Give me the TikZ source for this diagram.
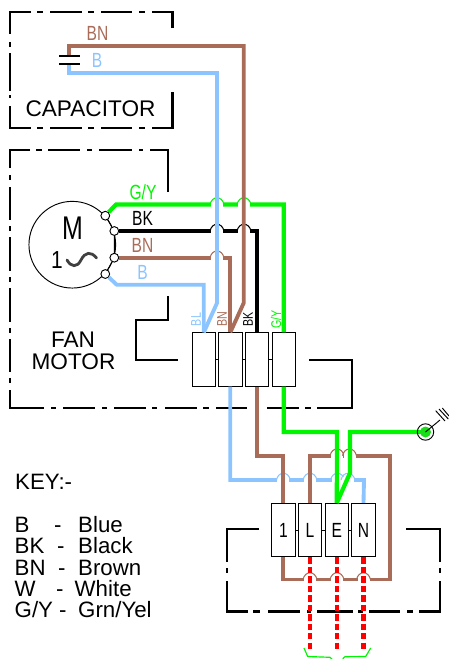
\documentclass[tikz,border=0pt]{standalone}
\usepackage{fontspec}
\setmainfont{Liberation Sans}
\tikzset{>=stealth}
\definecolor{wireblue}{RGB}{140,196,255}
\definecolor{wirebrown}{RGB}{168,108,88}
\definecolor{wiregreen}{RGB}{0,245,0}
\tikzset{
  boxline/.style={line width=1.9pt, line join=miter},
  thinline/.style={line width=.8pt},
  wire/.style={line width=3.3pt, line join=miter},
  greenwire/.style={wire, wiregreen, line width=3.6pt},
  term/.style={draw, thinline, fill=white, minimum width=20pt, minimum height=45.5pt, inner sep=0pt},
  stud/.style={circle, draw, thinline, fill=white, minimum size=7.5pt, inner sep=0pt},
  bigtext/.style={font=\fontsize{19.3}{19.3}\selectfont},
  keytext/.style={anchor=base west, inner sep=0pt, font=\fontsize{19}{19}\selectfont},
  wirelabel/.style={xscale=.76, inner sep=0pt, font=\fontsize{17.5}{17.5}\selectfont},
  sidelabel/.style={rotate=90, xscale=.76, inner sep=0pt, font=\fontsize{12}{12}\selectfont},
}
% hop of a wire over a crossing one: #1 colour, #2 x, #3 y
\newcommand{\hop}[3]{
  \fill[white] (#2-6,#3-3) rectangle (#2+6,#3+3);
  \draw[#1, line width=.9pt] (#2-7,#3) .. controls (#2-5,#3-9) and (#2+5,#3-9) .. (#2+7,#3);
}
\begin{document}
\begin{tikzpicture}[x=.03cm, y=-.03cm]
  \useasboundingbox (0,0) rectangle (449,659);

  % capacitor enclosure
  \draw[boxline] (172.5,28) -- (172.5,12) -- (152,12);
  \draw[boxline] (31,12) -- (10,12) -- (10,34);
  \draw[boxline] (10,106) -- (10,128) -- (31,128);
  \draw[boxline] (152,128) -- (172.5,128) -- (172.5,92);
  \foreach \a/\b in {37/43,50/82,88/94,101/132,139/145} {
    \draw[boxline] (\a,12) -- (\b,12);
    \draw[boxline] (\a,128) -- (\b,128);
  }
  \foreach \a/\b in {42/47,53/91,95/98} {\draw[boxline] (10,\a) -- (10,\b);}

  % motor enclosure
  \draw[boxline] (168,192) -- (168,150) -- (150,150);
  \draw[boxline] (30,150) -- (10,150) -- (10,168);
  \draw[boxline] (10,390) -- (10,408) -- (44,408);
  \draw[boxline] (317,408) -- (352,408) -- (352,360) -- (309,360);
  \draw[boxline] (168,296) -- (168,320) -- (136,320) -- (136,360) -- (178,360);
  \foreach \a/\b in {36/42,48/80,87/92,99/132,139/143} {\draw[boxline] (\a,150) -- (\b,150);}
  \foreach \a/\b in {175/180,187/220,226/231,237/271,277/282,288/322,328/333,339/372,378/383} {\draw[boxline] (10,\a) -- (10,\b);}
  \foreach \a/\b in {51/56,63/95,102/107,114/146,152/157,165/197,203/209,216/247,255/259,267/299,305/311} {\draw[boxline] (\a,408) -- (\b,408);}

  % supply enclosure
  \draw[boxline] (259,529) -- (227,529) -- (227,562);
  \draw[boxline] (227,581) -- (227,611.5) -- (248,611.5);
  \draw[boxline] (419,611.5) -- (440,611.5) -- (440,581);
  \draw[boxline] (440,562) -- (440,529) -- (405.5,529);
  \foreach \x in {227,440} {\draw[boxline] (\x,568) -- (\x,573);}
  \foreach \a/\b in {253/260,268/300,307/311,317/353,358/363,369/400,407/413} {\draw[boxline] (\a,611.5) -- (\b,611.5);}

  % motor
  \node[circle, draw, thinline, minimum size=74pt, inner sep=0pt] (motor) at (72.3,244.7) {};
  \node[xscale=.76, font=\fontsize{28}{28}\selectfont, inner sep=0pt] (mlabel) at (72.5,228) {M};
  \node[xscale=.85, font=\fontsize{21}{21}\selectfont, inner sep=0pt] (mone) at (57,260.5) {1};
  \draw[line width=2.4pt, black!75, line cap=round] (67,260) .. controls (71,267) and (77,268) .. (81,260) .. controls (85,252) and (91,251) .. (96.5,258);
  \node[stud] (mgy) at (105.3,215.7) {};
  \node[stud] (mbk) at (114.3,231) {};
  \node[stud] (mbn) at (114.3,257.7) {};
  \node[stud] (mbl) at (105.3,274) {};
  \draw[thinline] (mgy) -- (mbk) -- (mbn) -- (mbl);

  % upper terminal block
  \node[term] (tbl) at (203.8,359.5) {};
  \node[term] (tbn) at (230.3,359.5) {};
  \node[term] (tbk) at (257,359.5) {};
  \node[term] (tgy) at (283.8,359.5) {};
  \draw[thinline] (tbl) -- (tbn) -- (tbk) -- (tgy);

  % lower terminal block
  \node[term] (tone) at (283.4,530) {};
  \node[term] (tlin) at (310,530) {};
  \node[term] (tear) at (336.8,530) {};
  \node[term] (tneu) at (363.5,530) {};
  \draw[thinline] (tone) -- (tlin) -- (tear) -- (tneu);
  \node[wirelabel] (tonel) at (tone) {1};
  \node[wirelabel] (tlinl) at (tlin) {L};
  \node[wirelabel] (tearl) at (tear) {E};
  \node[wirelabel] (tneul) at (tneu) {N};

  \coordinate (capbn) at (69,55.5);
  \coordinate (capbl) at (69,64.5);
  \coordinate (earth) at (425.5,432);

  % horizontal runs first, the crossing wires go over them
  \draw[greenwire] (mgy) -- (116,204.5) -| (tgy.north);
  \draw[wire] (mbk) -| (tbk.north);
  \draw[wire, wirebrown] (mbn) -| (tbn.north);
  \draw[wire, wireblue] (mbl) -- (116.7,284.7) -| (tbl.north);
  \foreach \x in {217,244} {
    \hop{wiregreen}{\x}{204.5}
    \hop{black}{\x}{231}
  }
  \hop{wirebrown}{217}{257.7}
  \draw[wire, wireblue] (capbl) |- (217,73) -- (217,303) -- (tbl.north);
  \draw[wire, wirebrown] (capbn) |- (243.7,46) -- (243.7,303) -- (tbn.north);

  % lower wiring
  \draw[wire, wireblue] (tbn.south) |- (364,480) -- (tneu.north);
  \foreach \x in {283.4,310,337.5,348} {\hop{wireblue}{\x}{480}}
  \draw[wire, wirebrown] (tlin.north) |- (390.3,455.7) -- (390.3,579.5) -| (tone.south);
  \draw[wire, wirebrown] (tbk.south) |- (283.4,455.7) -- (tone.north);
  \foreach \x in {337,349.5} {\hop{wirebrown}{\x}{455.7}}
  \draw[greenwire] (tgy.south) |- (337,432) -- (tear.north);
  \draw[greenwire] (earth) -- (350,432) -- (350,473) -- (tear.north);
  \foreach \x in {310,337,363.5} {\hop{wirebrown}{\x}{579.5}}
  \foreach \n in {tlin,tear,tneu} {
    \draw[line width=3.6pt, red, dash pattern=on 5.5pt off 2.6pt] (\n.south) -- ++(0,92);
  }

  % capacitor plates
  \draw[line width=2.3pt] (59,56) -- (80,56);
  \draw[line width=2.3pt] (59,64) -- (80,64);

  % earth point
  \node[circle, draw, thinline, minimum size=14pt, inner sep=0pt] (ering) at (earth) {};
  \fill[green!85!black!90] (earth) circle (5.5);
  \draw[thinline] (earth) -- (440,420);
  \draw[thinline] (435.7,410.7) -- (445,421);
  \draw[thinline] (439,409) -- (448.3,419);
  \draw[thinline] (442.3,408) -- (449,416);

  % brace
  \draw[wiregreen, line width=1pt] (304,648) -- (307.7,656.5) -- (330,657.3) -- (332,659);
  \draw[wiregreen, line width=1pt] (342.7,658.7) -- (345,656.7) -- (365.7,656.5) -- (370.7,648);

  % wire labels
  \node[wirelabel, wirebrown] (capbnl) at (97.5,33.5) {BN};
  \node[wirelabel, wireblue] (capbll) at (97,60) {B};
  \node[wirelabel, wiregreen] (mgyl) at (143,192) {G/Y};
  \node[wirelabel] (mbkl) at (142.5,218.5) {BK};
  \node[wirelabel, wirebrown] (mbnl) at (142.5,245.5) {BN};
  \node[wirelabel, wireblue] (mbll) at (142.5,272) {B};
  \node[sidelabel, wireblue] (tbll) at (196,319.5) {BL};
  \node[sidelabel, wirebrown] (tbnl) at (222,319) {BN};
  \node[sidelabel] (tbkl) at (248,319) {BK};
  \node[sidelabel, wiregreen] (tgyl) at (276,319.5) {G/Y};

  % names
  \node[bigtext] (caplabel) at (90.5,109) {CAPACITOR};
  \node[bigtext] (fanlabel) at (73,339.5) {FAN};
  \node[bigtext] (motlabel) at (73.5,361.5) {MOTOR};

  % key
  \node[keytext] (keytitle) at (15,489) {KEY:-};
  \node[keytext] (ka) at (14.5,532) {B};
  \node[keytext] (kb) at (54,532) {-};
  \node[keytext] (kc) at (78,532) {Blue};
  \node[keytext] (kd) at (14.5,553) {BK};
  \node[keytext] (ke) at (57,553) {-};
  \node[keytext] (kf) at (78,553) {Black};
  \node[keytext] (kg) at (14.5,575) {BN};
  \node[keytext] (kh) at (58,575) {-};
  \node[keytext] (ki) at (78,575) {Brown};
  \node[keytext] (kj) at (14.5,596) {W};
  \node[keytext] (kk) at (56,596) {-};
  \node[keytext] (kl) at (74.5,596) {White};
  \node[keytext] (km) at (14.5,617) {G/Y};
  \node[keytext] (kn) at (59,617) {-};
  \node[keytext] (ko) at (78,617) {Grn/Yel};
\end{tikzpicture}
\end{document}
